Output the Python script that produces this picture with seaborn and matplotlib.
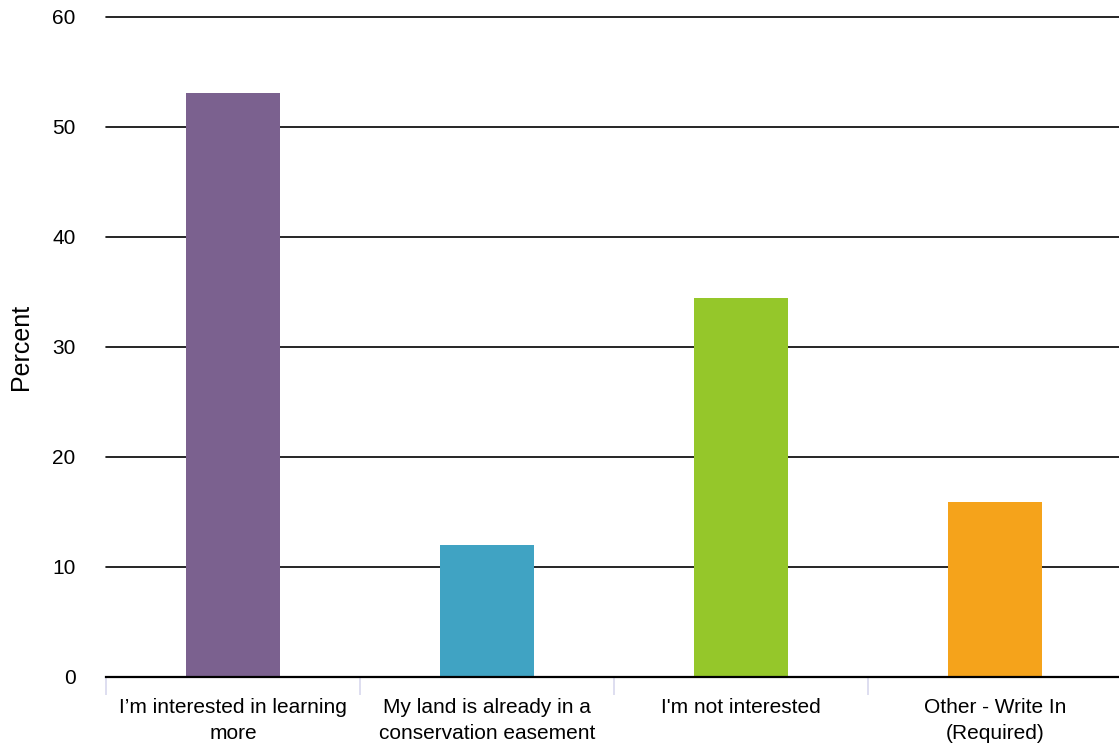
import matplotlib

matplotlib.use("Agg")

import matplotlib.pyplot as plt
import pandas as pd
import seaborn as sns

# Data
categories = [
    "I\u2019m interested in learning\nmore",
    "My land is already in a\nconservation easement",
    "I'm not interested",
    "Other - Write In\n(Required)",
]
percent = [53.1, 12.0, 34.5, 15.9]
bar_colors = ["#7B618F", "#40A3C3", "#95C72A", "#F5A31B"]
y_ticks = [0, 10, 20, 30, 40, 50, 60]

df = pd.DataFrame({"Category": categories, "Percent": percent})

sns.set_style("white")
plt.rcParams["font.family"] = ["Liberation Sans", "DejaVu Sans"]
plt.rcParams["text.color"] = "black"
plt.rcParams["xtick.color"] = "black"
plt.rcParams["ytick.color"] = "black"
plt.rcParams["axes.labelcolor"] = "black"

W, H = 1119, 747
fig = plt.figure(figsize=(W / 100, H / 100), dpi=100)
ax = fig.add_axes([106 / W, (H - 677) / H, (1122 - 106) / W, 660 / H])

sns.barplot(
    data=df,
    x="Category",
    y="Percent",
    hue="Category",
    palette=bar_colors,
    width=0.37,
    saturation=1,
    linewidth=0,
    legend=False,
    ax=ax,
)

ax.set_xlim(-0.5, len(categories) - 0.5)
ax.set_ylim(0, 60)
ax.set_yticks(y_ticks)
ax.set_yticklabels([str(t) for t in y_ticks], fontsize=15)
ax.tick_params(axis="y", length=0, pad=22)

# horizontal grid lines in black
ax.yaxis.grid(True, color="black", linewidth=1.2)
for gl in ax.get_ygridlines():
    gl.set_clip_on(False)
ax.set_axisbelow(True)

# category labels, separator ticks between categories
ax.set_xticks(range(len(categories)))
ax.set_xticklabels(categories, fontsize=15, linespacing=1.5)
ax.tick_params(axis="x", which="major", length=0, pad=15)
ax.set_xticks([i - 0.5 for i in range(len(categories) + 1)], minor=True)
ax.tick_params(axis="x", which="minor", bottom=True, length=13, width=1.2,
               color="#D8D8EE")

for side in ["top", "right", "left"]:
    ax.spines[side].set_visible(False)
ax.spines["bottom"].set_color("black")
ax.spines["bottom"].set_linewidth(1.6)

ax.set_xlabel("")
ax.set_ylabel("Percent", fontsize=18)
ax.yaxis.set_label_coords(-0.072, 0.5)

fig.savefig("out.png", dpi=100)
plt.close(fig)
